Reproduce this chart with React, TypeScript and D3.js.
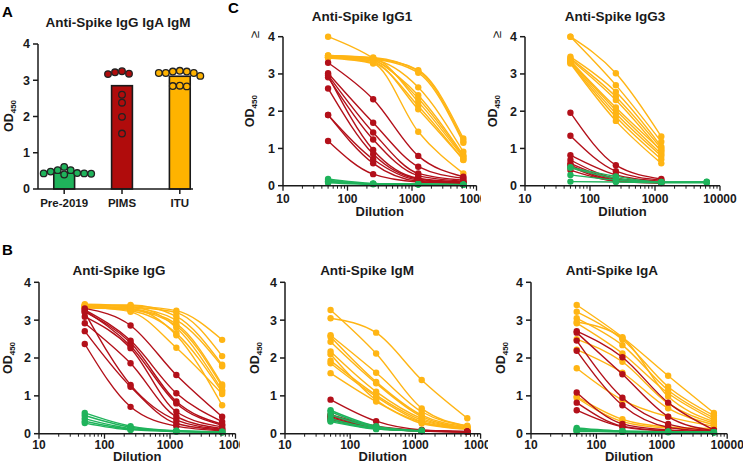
import React from 'react';
import * as d3 from 'd3';

// ---------- DATA ----------
const dilutions = [50, 250, 1250, 6250];
const xTickValues = [10, 100, 1000, 10000];
const yTickValues = [0, 1, 2, 3, 4];

const categories = ['Pre-2019', 'PIMS', 'ITU'];
const barMeans = [0.45, 2.85, 3.11];
const pre2019Points = [0.43, 0.52, 0.61, 0.52, 0.43, 0.48, 0.42, 0.44, 0.4];
const pimsPoints = [3.17, 3.25, 3.18, 3.22, 2.6, 2.38, 1.99, 1.53];
const ituPoints = [3.2, 3.26, 3.2, 3.12, 3.2, 3.24, 3.24, 2.84, 2.85, 2.83];

// Panel B: IgG
const iggItu = [
  [3.42, 3.38, 3.25, 2.48], [3.4, 3.35, 3.2, 2.05], [3.38, 3.4, 3.1, 1.82],
  [3.37, 3.33, 3.0, 1.78], [3.36, 3.3, 2.9, 1.3], [3.35, 3.28, 2.85, 1.25],
  [3.33, 3.35, 2.8, 1.15], [3.34, 3.25, 2.65, 1.1], [3.32, 3.3, 2.6, 0.75],
  [3.35, 3.22, 2.27, 1.05],
];
const iggPims = [
  [3.31, 2.86, 1.55, 0.45], [3.27, 2.46, 1.07, 0.32], [3.22, 2.4, 0.85, 0.25],
  [3.25, 2.32, 0.8, 0.22], [3.09, 2.26, 0.58, 0.18], [2.92, 1.86, 0.45, 0.14],
  [3.2, 1.29, 0.36, 0.12], [2.71, 1.24, 0.27, 0.1], [2.37, 0.71, 0.2, 0.08],
];
const iggPre = [
  [0.55, 0.2, 0.08, 0.05], [0.48, 0.17, 0.07, 0.05], [0.4, 0.14, 0.07, 0.04],
  [0.33, 0.12, 0.06, 0.04], [0.28, 0.1, 0.06, 0.04],
];

// Panel B: IgM
const igmItu = [
  [3.05, 2.67, 1.42, 0.41], [3.27, 2.12, 0.67, 0.21], [2.6, 1.61, 0.58, 0.2],
  [2.56, 1.37, 0.49, 0.18], [2.43, 1.33, 0.45, 0.16], [2.17, 1.11, 0.4, 0.15],
  [1.93, 1.02, 0.36, 0.14], [1.86, 0.98, 0.32, 0.13], [1.6, 0.85, 0.27, 0.12],
  [2.1, 0.89, 0.3, 0.12],
];
const igmPims = [
  [0.9, 0.33, 0.1, 0.06], [0.5, 0.2, 0.09, 0.05], [0.48, 0.18, 0.08, 0.05],
  [0.45, 0.17, 0.08, 0.05], [0.42, 0.16, 0.08, 0.05], [0.4, 0.15, 0.07, 0.05],
  [0.37, 0.14, 0.07, 0.05],
];
const igmPre = [
  [0.62, 0.2, 0.08], [0.58, 0.18, 0.08], [0.5, 0.16, 0.07],
  [0.4, 0.14, 0.07], [0.35, 0.13, 0.07], [0.32, 0.12, 0.07],
];

// Panel B: IgA
const igaItu = [
  [3.4, 2.55, 1.53, 0.55], [3.22, 2.49, 1.24, 0.48], [3.05, 2.34, 1.15, 0.42],
  [2.92, 2.12, 1.07, 0.36], [2.95, 2.53, 0.98, 0.32], [2.5, 1.9, 0.8, 0.28],
  [2.22, 1.61, 0.67, 0.24], [1.73, 0.89, 0.45, 0.2], [0.98, 0.38, 0.18, 0.14],
  [0.95, 0.32, 0.15, 0.12],
];
const igaPims = [
  [2.71, 2.02, 0.82, 0.1], [2.67, 1.57, 0.45, 0.08], [2.46, 0.95, 0.26, 0.07],
  [2.19, 0.75, 0.17, 0.06], [1.09, 0.26, 0.1, 0.05], [0.82, 0.2, 0.08, 0.05],
  [0.62, 0.18, 0.07, 0.05],
];
const igaPre = [
  [0.15, 0.07, 0.05, 0.04], [0.12, 0.06, 0.05, 0.04], [0.1, 0.06, 0.05, 0.04],
  [0.08, 0.05, 0.05, 0.04], [0.06, 0.05, 0.04, 0.04],
];

// Panel C: IgG1
const igg1Itu = [
  [4.0, 3.42, 2.43, 0.82], [3.5, 3.42, 3.1, 1.27], [3.48, 3.4, 3.03, 1.15],
  [3.46, 3.38, 2.64, 0.91], [3.45, 3.35, 2.34, 0.78], [3.44, 3.4, 2.25, 0.75],
  [3.45, 3.3, 2.14, 0.69], [3.47, 3.33, 2.05, 0.7], [3.43, 3.28, 1.45, 0.33],
  [3.5, 3.44, 3.08, 1.2],
];
const igg1Pims = [
  [3.3, 2.32, 0.8, 0.24], [3.02, 1.69, 0.51, 0.2], [2.97, 1.43, 0.33, 0.15],
  [2.91, 1.24, 0.27, 0.12], [2.95, 0.96, 0.2, 0.1], [2.61, 0.85, 0.18, 0.08],
  [1.9, 0.71, 0.15, 0.07], [1.9, 0.6, 0.12, 0.06], [1.2, 0.31, 0.1, 0.06],
];
const igg1Pre = [
  [0.18, 0.06, 0.04, 0.03], [0.15, 0.05, 0.04, 0.03], [0.12, 0.05, 0.04, 0.03],
  [0.1, 0.05, 0.04, 0.03], [0.08, 0.04, 0.04, 0.03],
];

// Panel C: IgG3
const igg3Itu = [
  [4.0, 3.02, 1.32], [4.0, 2.7, 1.18], [3.46, 2.52, 1.05], [3.42, 2.39, 1.0],
  [3.39, 2.3, 0.91], [3.35, 2.03, 0.85], [3.33, 1.94, 0.8], [3.3, 1.85, 0.71],
  [3.28, 1.74, 0.6], [3.35, 2.1, 0.95],
];
const igg3Pims = [
  [1.96, 0.55, 0.18], [1.34, 0.39, 0.15], [0.82, 0.29, 0.12], [0.69, 0.2, 0.1],
  [0.6, 0.18, 0.09], [0.55, 0.15, 0.08], [0.51, 0.13, 0.08], [0.42, 0.12, 0.07],
];
const igg3Pre = [
  [0.5, 0.25, 0.1, 0.11], [0.48, 0.2, 0.1, 0.1], [0.29, 0.15, 0.09, 0.09],
  [0.11, 0.1, 0.08, 0.08],
];

// ---------- STYLE ----------
const GREEN = '#1fb35b';
const RED = '#b3101a';
const GOLD = '#ffb514';
const BAR_RED = '#b00c0c';
const BAR_GOLD = '#ffb300';
const AXIS = '#1a1a1a';
const FONT = '"Liberation Sans", Arial, sans-serif';

function YLabel({ x, y }: { x: number; y: number }) {
  return (
    <text transform={`translate(${x},${y}) rotate(-90)`} textAnchor="middle"
      fontFamily={FONT} fontWeight="bold" fontSize={12.5} fill={AXIS}>
      OD<tspan fontSize={8} dy={3}>450</tspan>
    </text>
  );
}

function YAxis({ x0, y }: { x0: number; y: d3.ScaleLinear<number, number> }) {
  return (
    <g>
      <line x1={x0} x2={x0} y1={y(0)} y2={y(4)} stroke={AXIS} strokeWidth={1.5} />
      {yTickValues.map(t => (
        <g key={t}>
          <line x1={x0 - 5} x2={x0} y1={y(t)} y2={y(t)} stroke={AXIS} strokeWidth={1.5} />
          <text x={x0 - 8} y={y(t)} dy="0.35em" textAnchor="end" fontFamily={FONT}
            fontWeight="bold" fontSize={12.5} fill={AXIS}>{t}</text>
        </g>
      ))}
    </g>
  );
}

type PanelProps = {
  id: string; x0: number; dec: number; y0: number; y4: number; title: string;
  titleX: number; titleY: number; clipRight: number; tickY: number; dilY: number;
  labelX: number; geq?: boolean; groups: { data: number[][]; color: string }[];
};

function LinePanel(p: PanelProps) {
  const x = d3.scaleLog().domain([10, 10000]).range([p.x0, p.x0 + 3 * p.dec]);
  const y = d3.scaleLinear().domain([0, 4]).range([p.y0, p.y4]);
  const line = d3.line<[number, number]>()
    .x(d => x(d[0])).y(d => y(d[1])).curve(d3.curveMonotoneX);
  const minor: number[] = [];
  for (let e = 1; e < 4; e++) for (let k = 2; k <= 9; k++) minor.push(k * Math.pow(10, e));
  const clipId = 'clip-' + p.id;
  return (
    <g>
      <defs>
        <clipPath id={clipId}><rect x={0} y={0} width={p.clipRight} height={464} /></clipPath>
      </defs>
      <g clipPath={`url(#${clipId})`}>
        <text x={p.titleX} y={p.titleY} textAnchor="middle" fontFamily={FONT}
          fontWeight="bold" fontSize={13.5} fill={AXIS}>{p.title}</text>
        <YLabel x={p.labelX} y={(p.y0 + p.y4) / 2} />
        {p.geq && (
          <text transform={`translate(${p.x0 - 29},${p.y4 - 2}) rotate(-90)`} textAnchor="middle"
            dy="0.35em" fontFamily={FONT} fontSize={13} fill={AXIS}>≥</text>
        )}
        {p.groups.map((g, gi) => (
          <g key={gi}>
            {g.data.map((s, si) => {
              const pts: [number, number][] = s.map((v, i) => [dilutions[i], v]);
              return (
                <g key={si}>
                  <path d={line(pts) || ''} fill="none" stroke={g.color} strokeWidth={1.4} />
                  {pts.map((pt, k) => (
                    <circle key={k} cx={x(pt[0])} cy={y(pt[1])} r={3.2} fill={g.color} />
                  ))}
                </g>
              );
            })}
          </g>
        ))}
        <YAxis x0={p.x0} y={y} />
        <line x1={p.x0} x2={x(10000)} y1={p.y0} y2={p.y0} stroke={AXIS} strokeWidth={1.5} />
        {xTickValues.map(t => (
          <g key={t}>
            <line x1={x(t)} x2={x(t)} y1={p.y0} y2={p.y0 + 5} stroke={AXIS} strokeWidth={1.3} />
            <text x={x(t)} y={p.tickY} textAnchor="middle" fontFamily={FONT}
              fontWeight="bold" fontSize={12} fill={AXIS}>{t}</text>
          </g>
        ))}
        {minor.map(t => (
          <line key={t} x1={x(t)} x2={x(t)} y1={p.y0} y2={p.y0 + 3} stroke={AXIS} strokeWidth={1} />
        ))}
        <text x={(x(10) + x(10000)) / 2} y={p.dilY} textAnchor="middle" fontFamily={FONT}
          fontWeight="bold" fontSize={13} fill={AXIS}>Dilution</text>
      </g>
    </g>
  );
}

function swarm(values: number[], r: number, yPix: (v: number) => number) {
  const placed: { x: number; y: number }[] = [];
  const out: number[] = new Array(values.length).fill(0);
  const order = values.map((v, i) => i).sort((a, b) => values[b] - values[a]);
  for (const i of order) {
    const py = yPix(values[i]);
    let chosen = 0;
    for (let k = 0; k < 400; k++) {
      const off = (k % 2 === 0 ? 1 : -1) * Math.ceil(k / 2) * 0.5;
      const ok = placed.every(q => Math.hypot(q.x - off, q.y - py) >= 2 * r + 0.4);
      if (ok) { chosen = off; break; }
    }
    placed.push({ x: chosen, y: py });
    out[i] = chosen;
  }
  return out;
}

function BarPanel() {
  const x0 = 38;
  const y = d3.scaleLinear().domain([0, 4]).range([189, 44]);
  const xb = d3.scaleBand().domain(categories).range([x0 + 10, x0 + 158]).paddingInner(0.64).paddingOuter(0.1);
  const pointSets = [pre2019Points, pimsPoints, ituPoints];
  const fills = [GREEN, BAR_RED, BAR_GOLD];
  const r = 3.3;
  return (
    <g>
      <text x={118} y={27} textAnchor="middle" fontFamily={FONT} fontWeight="bold"
        fontSize={13.5} fill={AXIS}>Anti-Spike IgG IgA IgM</text>
      <YLabel x={13} y={116} />
      {categories.map((c, i) => {
        const cx = (xb(c) || 0) + xb.bandwidth() / 2;
        const offs = swarm(pointSets[i], r, v => y(v));
        return (
          <g key={c}>
            <rect x={xb(c)} y={y(barMeans[i])} width={xb.bandwidth()} height={y(0) - y(barMeans[i])}
              fill={fills[i]} stroke={AXIS} strokeWidth={1.6} />
            {pointSets[i].map((v, k) => (
              <circle key={k} cx={cx + offs[k]} cy={y(v)} r={r} fill={fills[i]}
                stroke="#222" strokeWidth={1.3} />
            ))}
            <line x1={cx} x2={cx} y1={y(0)} y2={y(0) + 5} stroke={AXIS} strokeWidth={1.5} />
            <text x={cx} y={207} textAnchor="middle" fontFamily={FONT} fontWeight="bold"
              fontSize={11.5} fill={AXIS}>{c}</text>
          </g>
        );
      })}
      <YAxis x0={x0} y={y} />
      <line x1={x0} x2={x0 + 155} y1={y(0)} y2={y(0)} stroke={AXIS} strokeWidth={1.5} />
    </g>
  );
}

export default function App() {
  return (
    <svg width={743} height={464} style={{ position: 'absolute', left: 0, top: 0, background: '#fff' }}>
      <rect width={743} height={464} fill="#fff" />
      <text x={2} y={17} fontFamily={FONT} fontWeight="bold" fontSize={15} fill="#000">A</text>
      <text x={228} y={13} fontFamily={FONT} fontWeight="bold" fontSize={15} fill="#000">C</text>
      <text x={2} y={255} fontFamily={FONT} fontWeight="bold" fontSize={15} fill="#000">B</text>
      <BarPanel />
      <LinePanel id="igg1" x0={283} dec={64.5} y0={185.7} y4={36.7} title="Anti-Spike IgG1"
        titleX={362} titleY={21} clipRight={481} tickY={203} dilY={216} labelX={254} geq
        groups={[{ data: igg1Itu, color: GOLD }, { data: igg1Pims, color: RED }, { data: igg1Pre, color: GREEN }]} />
      <LinePanel id="igg3" x0={525} dec={65} y0={185.7} y4={36.7} title="Anti-Spike IgG3"
        titleX={615} titleY={21} clipRight={743} tickY={203} dilY={216} labelX={497} geq
        groups={[{ data: igg3Itu, color: GOLD }, { data: igg3Pims, color: RED }, { data: igg3Pre, color: GREEN }]} />
      <LinePanel id="igg" x0={39} dec={65.5} y0={433.7} y4={282.3} title="Anti-Spike IgG"
        titleX={119} titleY={275} clipRight={240} tickY={449} dilY={461} labelX={12}
        groups={[{ data: iggItu, color: GOLD }, { data: iggPims, color: RED }, { data: iggPre, color: GREEN }]} />
      <LinePanel id="igm" x0={285} dec={65.2} y0={433.7} y4={282.3} title="Anti-Spike IgM"
        titleX={367} titleY={275} clipRight={488} tickY={449} dilY={461} labelX={259}
        groups={[{ data: igmItu, color: GOLD }, { data: igmPims, color: RED }, { data: igmPre, color: GREEN }]} />
      <LinePanel id="iga" x0={531} dec={65.4} y0={433.7} y4={282.3} title="Anti-Spike IgA"
        titleX={612} titleY={275} clipRight={743} tickY={449} dilY={461} labelX={505}
        groups={[{ data: igaItu, color: GOLD }, { data: igaPims, color: RED }, { data: igaPre, color: GREEN }]} />
    </svg>
  );
}
